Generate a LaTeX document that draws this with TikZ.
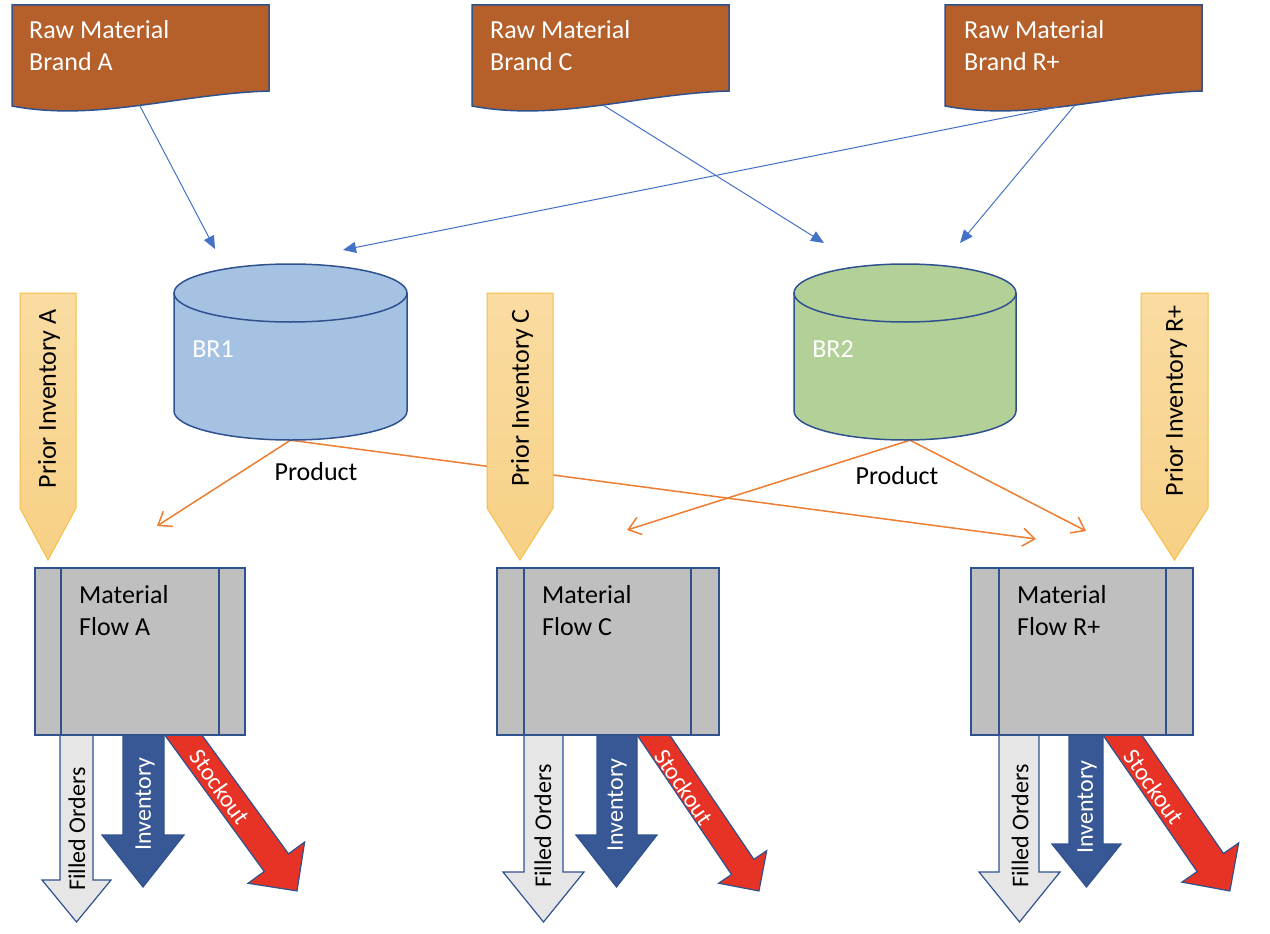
\documentclass[tikz,border=0pt]{standalone}
\usepackage{fontspec}
\setmainfont{Carlito}
\usetikzlibrary{arrows.meta}
\definecolor{docfill}{HTML}{B5602A}
\definecolor{edgeblue}{HTML}{2F528F}
\definecolor{cylblue}{HTML}{A5C2E3}
\definecolor{cylgreen}{HTML}{B2D097}
\definecolor{pritop}{HTML}{FADCA2}
\definecolor{pribot}{HTML}{F7D085}
\definecolor{priedge}{HTML}{F4BE47}
\definecolor{mfgray}{HTML}{BFBFBF}
\definecolor{fogray}{HTML}{E7E6E6}
\definecolor{invblue}{HTML}{385795}
\definecolor{stockred}{HTML}{E63325}
\definecolor{linkblue}{HTML}{4472C4}
\definecolor{prodorange}{HTML}{ED7D31}
\tikzset{
  bigtext/.style={font=\fontsize{26}{31}\selectfont, inner sep=0pt},
  arrowtext/.style={font=\fontsize{24}{29}\selectfont, inner sep=0pt},
  docstyle/.style={fill=docfill, draw=edgeblue, line width=1.5pt},
  cylstyle/.style={draw=edgeblue, line width=1.5pt},
  priorstyle/.style={top color=pritop, bottom color=pribot, draw=priedge, line width=1pt},
  mfstyle/.style={fill=mfgray, draw=edgeblue, line width=1.5pt, inner sep=0pt, minimum height=167pt},
  fostyle/.style={fill=fogray, draw=edgeblue, line width=1.2pt},
  invstyle/.style={fill=invblue, draw=edgeblue, line width=1.2pt},
  stockstyle/.style={fill=stockred, draw=edgeblue, line width=1.2pt},
  linkstyle/.style={draw=linkblue, line width=1pt, -{Triangle[length=13pt,width=11pt]}},
  prodlink/.style={draw=prodorange, line width=1.5pt, -{Straight Barb[length=12pt,width=18pt]}},
}
\newcommand{\docshape}[1]{\path[docstyle] (#1,5) -- ({#1+257},5) -- ({#1+257},91) .. controls ({#1+165},94) and ({#1+85},122) .. (#1,106) -- cycle;}
\newcommand{\cylshape}[3]{%
  \path[cylstyle, fill=#3] ({#1-#2},293) -- ({#1-#2},411) .. controls ({#1-#2},427) and ({#1-0.5523*#2},440) .. (#1,440) .. controls ({#1+0.5523*#2},440) and ({#1+#2},427) .. ({#1+#2},411) -- ({#1+#2},293);
  \path[cylstyle, fill=#3] (#1,293) ellipse [x radius=#2, y radius=29];}
\newcommand{\priorarrow}[2]{\path[priorstyle] (#1,293) -- (#2,293) -- (#2,508) -- ({(#1+#2)/2},560) -- (#1,508) -- cycle;}
\newcommand{\downarrowshape}[7]{\path[#1] (#2,718) -- (#2,#6) -- (#4,#6) -- ({(#4+#5)/2},#7) -- (#5,#6) -- (#3,#6) -- (#3,718) -- cycle;}
\newcommand{\stockshape}[6]{%
  \begin{scope}[shift={(#1,#2)}, rotate=-#3]
    \path[stockstyle] (0,-#5) -- ({#4-#6},-#5) -- ({#4-#6},-#6) -- (#4,0) -- ({#4-#6},#6) -- ({#4-#6},#5) -- (0,#5) -- cycle;
  \end{scope}}
\begin{document}
\begin{tikzpicture}[x=1pt,y=-1pt]
\useasboundingbox (0,0) rectangle (1270,934);

% anchor nodes and coordinates
\node[inner sep=0pt, minimum width=233pt, minimum height=177pt] (br1) at (290.5,351.5) {};
\node[inner sep=0pt, minimum width=222pt, minimum height=177pt] (br2) at (905,351.5) {};
\coordinate (docAout) at (140,106);
\coordinate (docCout) at (603,105);
\coordinate (docRout1) at (1058,107);
\coordinate (docRout2) at (1075,105);
\coordinate (br1inA) at (215,249);
\coordinate (br1inR) at (343,250);
\coordinate (br2inC) at (824,243);
\coordinate (br2inR) at (960,243);
\coordinate (mfAin) at (157,526);
\coordinate (mfRin1) at (1036,539);
\coordinate (mfCin) at (627,530);
\coordinate (mfRin2) at (1086,531);

% product connectors (under the prior inventory arrows)
\draw[prodlink] (br1.south) -- (mfAin);
\draw[prodlink] (br1.south) -- (mfRin1);
\draw[prodlink] ([xshift=5pt]br2.south) -- (mfCin);
\draw[prodlink] ([xshift=5pt]br2.south) -- (mfRin2);
\node[bigtext] (prod1) at (316,472) {Product};
\node[bigtext] (prod2) at (897,476) {Product};

% prior inventory arrows
\priorarrow{20}{76}
\priorarrow{487}{553}
\priorarrow{1141}{1208}
\node[bigtext, rotate=90] (priA) at (49,399) {Prior Inventory A};
\node[bigtext, rotate=90] (priC) at (522,398) {Prior Inventory C};
\node[bigtext, rotate=90] (priR) at (1176,401) {Prior Inventory R+};

% output arrows (drawn under the boxes)
\downarrowshape{fostyle}{60}{93}{42}{111}{880}{922}
\downarrowshape{invstyle}{123}{164}{102}{184}{835}{887}
\stockshape{172.2}{719.8}{53.9}{211.8}{15}{35}
\downarrowshape{fostyle}{524}{563}{503}{584}{872}{922}
\downarrowshape{invstyle}{597}{637}{576}{657}{835}{887}
\stockshape{642.8}{719.4}{55.9}{207.2}{13.5}{29}
\downarrowshape{fostyle}{999}{1039}{979}{1060}{872}{922}
\downarrowshape{invstyle}{1069}{1103}{1052}{1121}{844}{887}
\stockshape{1111.6}{719.5}{55.4}{208.3}{16}{34.5}

\node[arrowtext, rotate=90] (foA) at (77,829) {Filled Orders};
\node[arrowtext, rotate=90] (foC) at (543,826) {Filled Orders};
\node[arrowtext, rotate=90] (foR) at (1020,826) {Filled Orders};
\node[arrowtext, rotate=90, text=white] (invA) at (145,804) {Inventory};
\node[arrowtext, rotate=90, text=white] (invC) at (617,805) {Inventory};
\node[arrowtext, rotate=90, text=white] (invR) at (1087,807) {Inventory};
\node[arrowtext, rotate=-55, text=white] (stA) at (220,787) {Stockout};
\node[arrowtext, rotate=-56, text=white] (stC) at (684,787) {Stockout};
\node[arrowtext, rotate=-55, text=white] (stR) at (1154,787) {Stockout};

% material flow boxes
\node[mfstyle, minimum width=210pt] (mfA) at (140,651.5) {};
\node[mfstyle, minimum width=222pt] (mfC) at (608,651.5) {};
\node[mfstyle, minimum width=222pt] (mfR) at (1082,651.5) {};
\draw[edgeblue, line width=1.5pt] (61,568) -- (61,735) (219,568) -- (219,735);
\draw[edgeblue, line width=1.5pt] (524,568) -- (524,735) (691,568) -- (691,735);
\draw[edgeblue, line width=1.5pt] (999,568) -- (999,735) (1166,568) -- (1166,735);
\node[bigtext, anchor=base west] (mfA1) at (79,603) {Material};
\node[bigtext, anchor=base west] (mfA2) at (79,635) {Flow A};
\node[bigtext, anchor=base west] (mfC1) at (542,603) {Material};
\node[bigtext, anchor=base west] (mfC2) at (542,635) {Flow C};
\node[bigtext, anchor=base west] (mfR1) at (1017,603) {Material};
\node[bigtext, anchor=base west] (mfR2) at (1017,635) {Flow R+};

% raw material documents
\docshape{12}
\docshape{472}
\docshape{945}
\node[bigtext, anchor=base west, text=white] (docA1) at (29,39) {Raw Material};
\node[bigtext, anchor=base west, text=white] (docA2) at (29,71) {Brand A};
\node[bigtext, anchor=base west, text=white] (docC1) at (490,39) {Raw Material};
\node[bigtext, anchor=base west, text=white] (docC2) at (490,71) {Brand C};
\node[bigtext, anchor=base west, text=white] (docR1) at (964,39) {Raw Material};
\node[bigtext, anchor=base west, text=white] (docR2) at (964,71) {Brand R+};

% blends (cylinders)
\cylshape{290.5}{116.5}{cylblue}
\cylshape{905}{111}{cylgreen}
\node[bigtext, text=white] (br1txt) at (213,349) {BR1};
\node[bigtext, text=white] (br2txt) at (833,349) {BR2};

% raw material connectors
\draw[linkstyle] (docAout) -- (br1inA);
\draw[linkstyle] (docCout) -- (br2inC);
\draw[linkstyle] (docRout1) -- (br1inR);
\draw[linkstyle] (docRout2) -- (br2inR);
\end{tikzpicture}
\end{document}
